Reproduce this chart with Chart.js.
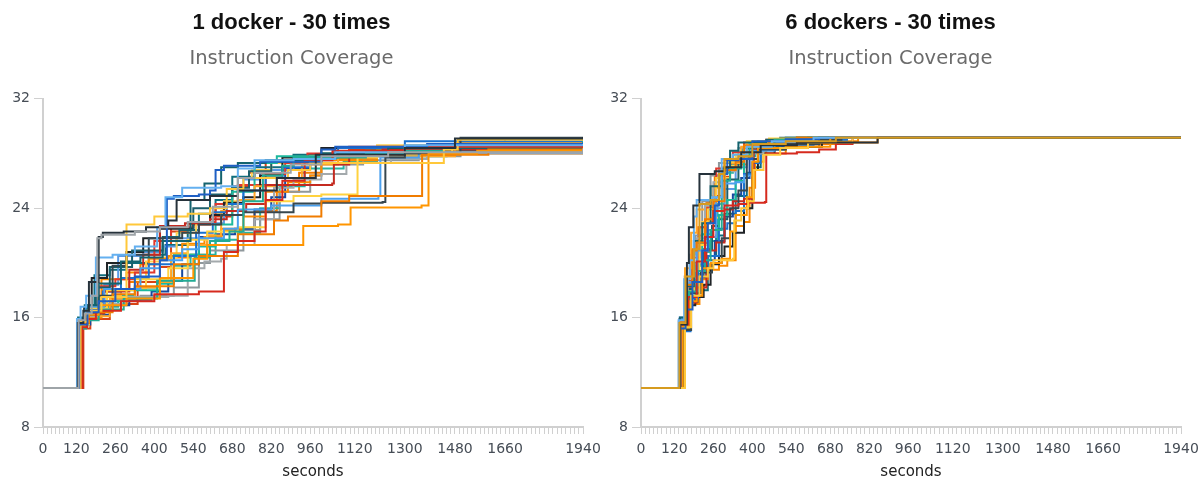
<!DOCTYPE html>
<html>
<head>
<meta charset="utf-8">
<script src="https://cdn.jsdelivr.net/npm/chart.js@4.4.1/dist/chart.umd.min.js"></script>
<style>
  html, body { margin: 0; padding: 0; background: #fff; }
  body { width: 1201px; height: 481px; position: relative; overflow: hidden; }
  .panel { position: absolute; top: 0; height: 481px; }
  #left { left: 0; width: 600px; }
  #right { left: 600px; width: 601px; }
</style>
</head>
<body>
<div class="panel" id="left"><canvas id="oneDocker"></canvas></div>
<div class="panel" id="right"><canvas id="sixDockers"></canvas></div>
<script>
// x tick labels (seconds) and y range
const xLabels = [0, 120, 260, 400, 540, 680, 820, 960, 1120, 1300, 1480, 1660, 1940];
const yTicks = [8, 16, 24, 32];

const lineColors = [
  '#9ea4a8', '#26323b', '#64b0f0', '#1e5fc4', '#ffc83a', '#d62a1e', '#ff9500', '#f07c00', '#22ab94', '#14636e',
  '#37474f', '#4aa0ee', '#ffd23f', '#c42a20', '#a3a9ac', '#1a72d0', '#ffa628', '#1cb89c', '#1b5e6b', '#1f2326',
  '#e0382e', '#fb8a00', '#ffd050', '#5b9be6', '#17499e', '#8f989c', '#27b3a2', '#0f6e7c', '#f57c00', '#d84315'
];

// 1 docker runs: [seconds, coverage]
const oneDocker = [
  [[0,10.85],[128,15.8],[150,16.3],[175,17.6],[195,21.8],[210,22.05],[330,22.3],[420,22.6],[520,23.0],[610,24.1],[700,26.2],[760,26.6],[890,27.2],[1000,27.8],[1240,28.1],[1940,28.35]],
  [[0,10.85],[125,15.6],[145,16.5],[165,18.6],[200,21.9],[215,22.2],[290,22.3],[370,22.6],[450,23.1],[480,24.6],[600,24.9],[700,25.3],[840,26.2],[980,27.9],[1300,28.4],[1480,29.1],[1940,29.2]],
  [[0,10.85],[122,15.9],[135,16.8],[155,17.6],[190,20.4],[250,20.6],[330,21.2],[410,22.6],[440,24.8],[500,25.5],[640,25.6],[700,26.9],[760,27.5],[900,27.6],[1050,28.1],[1300,28.6],[1940,28.7]],
  [[0,10.85],[130,15.5],[160,16.4],[200,17.2],[260,18.1],[330,19.0],[420,20.2],[445,24.7],[470,24.9],[560,25.0],[600,25.3],[620,26.8],[650,27.1],[780,27.4],[1000,28.3],[1050,28.5],[1380,28.7],[1940,28.8]],
  [[0,10.85],[135,15.7],[160,16.5],[210,17.5],[300,22.8],[400,23.4],[520,23.6],[600,24.0],[660,25.4],[720,26.2],[880,26.8],[960,27.3],[1440,28.3],[1490,29.0],[1940,29.0]],
  [[0,10.85],[140,15.3],[158,15.9],[190,16.5],[280,17.2],[400,17.7],[560,17.9],[650,20.8],[700,21.6],[760,22.3],[800,24.6],[860,26.0],[940,27.5],[1040,28.2],[1300,28.5],[1940,28.6]],
  [[0,10.85],[132,15.4],[150,16.2],[200,16.9],[300,17.4],[420,18.9],[540,20.3],[590,21.3],[935,22.7],[1060,22.8],[1105,24.05],[1360,24.2],[1385,28.0],[1560,28.2],[1940,28.3]],
  [[0,10.85],[135,15.6],[165,16.4],[250,17.7],[330,18.3],[470,19.9],[560,20.5],[700,22.1],[830,23.1],[880,23.4],[1000,24.5],[1100,24.9],[1355,24.9],[1362,27.9],[1600,28.3],[1940,28.5]],
  [[0,10.85],[137,15.2],[155,15.8],[200,16.6],[290,17.4],[410,18.7],[545,20.4],[600,21.6],[670,22.3],[720,24.5],[790,26.4],[860,27.1],[900,27.7],[1160,28.0],[1300,28.2],[1440,28.5],[1940,29.0]],
  [[0,10.85],[128,15.9],[160,16.9],[200,18.5],[280,20.1],[350,20.4],[430,21.6],[530,24.6],[580,25.8],[640,27.0],[700,27.3],[800,27.5],[1000,28.0],[1240,28.4],[1940,28.5]],
  [[0,10.85],[126,15.7],[150,16.2],[200,17.6],[250,19.8],[300,20.6],[380,21.8],[500,22.2],[560,22.8],[640,23.5],[720,23.7],[900,24.35],[1000,24.4],[1220,24.45],[1230,27.7],[1300,28.0],[1500,29.15],[1940,29.2]],
  [[0,10.85],[130,15.8],[155,16.8],[220,18.1],[350,19.6],[420,20.2],[500,21.0],[560,21.8],[650,22.5],[700,23.9],[820,24.2],[1000,24.7],[1205,24.9],[1212,27.7],[1350,28.1],[1940,28.25]],
  [[0,10.85],[133,15.5],[165,16.7],[230,18.0],[330,18.8],[450,19.6],[520,21.7],[590,22.3],[700,22.6],[800,24.5],[900,24.9],[1000,25.0],[1125,25.0],[1130,27.7],[1200,28.0],[1470,28.6],[1940,28.7]],
  [[0,10.85],[142,15.6],[165,16.3],[220,17.9],[310,19.5],[360,20.6],[420,22.7],[510,22.9],[600,23.2],[660,23.8],[730,24.3],[800,25.7],[1039,25.8],[1045,27.2],[1100,28.0],[1220,28.3],[1940,28.4]],
  [[0,10.85],[128,15.6],[150,16.1],[200,17.0],[300,17.5],[450,17.6],[520,19.6],[580,20.1],[640,20.3],[660,21.3],[760,23.2],[830,25.5],[900,26.1],[1000,26.5],[1090,27.3],[1250,27.6],[1380,28.0],[1940,28.3]],
  [[0,10.85],[130,15.7],[155,16.6],[215,17.9],[280,18.9],[380,19.9],[470,20.5],[550,22.2],[610,23.7],[660,24.3],[720,25.3],[800,26.2],[860,27.0],[960,27.7],[1060,28.4],[1300,28.9],[1940,29.05]],
  [[0,10.85],[138,15.4],[160,16.1],[240,17.4],[330,18.2],[420,18.6],[460,20.7],[520,21.3],[590,22.0],[640,23.8],[700,24.6],[760,25.6],[840,26.2],[930,27.2],[1060,27.8],[1480,28.8],[1940,28.9]],
  [[0,10.85],[131,15.5],[160,16.3],[220,17.2],[300,18.0],[420,18.5],[470,20.6],[560,21.2],[620,22.8],[680,25.2],[760,27.3],[840,27.8],[1000,28.0],[1160,28.2],[1280,28.3],[1500,28.8],[1940,29.0]],
  [[0,10.85],[129,15.7],[150,16.6],[190,18.2],[240,19.7],[320,20.9],[430,21.9],[490,22.4],[540,24.0],[600,25.0],[680,25.5],[740,26.7],[820,27.4],[1000,27.9],[1180,28.2],[1660,29.1],[1940,29.15]],
  [[0,10.85],[127,15.8],[148,16.7],[175,18.9],[230,20.0],[300,20.8],[360,21.8],[420,22.5],[540,23.0],[600,23.5],[650,24.4],[720,24.8],[780,26.4],[860,27.7],[1000,28.4],[1500,28.6],[1940,28.7]],
  [[0,10.85],[134,15.9],[160,16.7],[200,18.3],[260,18.8],[330,19.3],[400,21.6],[460,22.6],[540,23.0],[620,24.3],[700,25.7],[800,26.5],[870,27.3],[950,28.0],[1100,28.5],[1940,28.9]],
  [[0,10.85],[136,15.3],[152,16.0],[210,18.8],[300,19.3],[380,20.3],[450,20.5],[500,21.4],[580,21.9],[640,22.5],[720,23.4],[800,25.2],[880,25.9],[960,26.4],[1000,27.5],[1200,28.3],[1940,28.45]],
  [[0,10.85],[128,15.9],[150,16.5],[200,17.6],[280,18.1],[370,20.1],[420,20.4],[480,22.2],[550,23.0],[600,23.6],[650,24.5],[700,26.2],[750,26.8],[820,27.3],[960,27.8],[1200,28.6],[1940,28.7]],
  [[0,10.85],[132,15.6],[165,16.4],[220,18.4],[270,20.5],[360,20.8],[430,21.2],[480,21.8],[560,22.9],[650,23.5],[720,26.1],[780,26.8],[900,27.5],[1050,27.9],[1270,28.4],[1940,28.55]],
  [[0,10.85],[130,15.5],[170,16.2],[240,16.9],[310,17.3],[390,17.9],[450,18.7],[500,19.9],[560,21.9],[620,22.1],[690,22.5],[760,23.9],[820,24.8],[870,26.9],[960,27.6],[1060,27.9],[1300,28.6],[1940,28.6]],
  [[0,10.85],[133,15.7],[165,16.5],[250,17.3],[350,17.6],[470,18.2],[560,20.0],[600,20.9],[720,22.4],[780,23.2],[850,25.2],[960,26.4],[1000,27.2],[1150,27.5],[1350,27.8],[1500,28.1],[1940,28.2]],
  [[0,10.85],[135,15.4],[160,16.1],[210,16.8],[270,17.6],[330,18.2],[410,18.5],[470,19.8],[530,20.6],[620,21.7],[700,22.2],[780,24.0],[850,25.6],[940,26.9],[1080,27.4],[1200,27.8],[1450,28.5],[1940,28.6]],
  [[0,10.85],[126,16.0],[150,16.9],[185,19.1],[240,19.5],[300,20.0],[380,20.6],[440,21.3],[520,22.4],[560,23.6],[620,24.6],[680,26.3],[760,27.0],[900,27.9],[1050,28.4],[1940,28.9]],
  [[0,10.85],[140,15.6],[160,16.5],[215,18.0],[310,18.6],[350,19.9],[420,20.2],[470,20.4],[530,20.6],[590,22.0],[650,22.4],[760,23.8],[840,25.2],[920,26.6],[1000,27.6],[1200,28.0],[1940,28.35]],
  [[0,10.85],[145,15.2],[170,15.9],[240,17.0],[340,18.6],[420,19.7],[460,22.3],[520,22.8],[600,23.4],[680,25.6],[740,26.6],[800,27.3],[900,27.8],[1100,28.3],[1700,28.5],[1940,28.55]]
];

// 6 dockers runs: [seconds, coverage]
const sixDockers = [
  [[0,10.85],[138,15.6],[160,19.0],[190,21.0],[210,24.3],[250,24.6],[280,26.5],[300,27.6],[350,27.8],[400,28.7],[520,28.9],[700,29.15],[1940,29.15]],
  [[0,10.85],[140,15.5],[165,20.0],[172,22.6],[188,24.2],[210,26.5],[265,26.7],[300,27.0],[360,28.1],[430,28.6],[560,28.8],[850,29.15],[1940,29.15]],
  [[0,10.85],[135,15.8],[155,18.8],[175,20.2],[190,23.4],[200,24.6],[255,24.8],[290,27.6],[330,27.9],[380,28.5],[470,28.9],[620,29.15],[1940,29.15]],
  [[0,10.85],[137,15.2],[160,16.6],[185,18.6],[220,20.9],[240,22.9],[265,24.2],[280,26.5],[310,27.5],[350,27.6],[400,28.9],[520,29.05],[640,29.15],[1940,29.15]],
  [[0,10.85],[158,15.3],[180,17.6],[210,19.0],[240,19.6],[260,20.2],[330,20.3],[335,23.1],[360,24.0],[385,24.5],[405,26.8],[440,27.9],[500,28.4],[600,28.8],[760,29.15],[1940,29.15]],
  [[0,10.85],[142,15.5],[170,17.5],[200,20.1],[230,21.9],[260,23.8],[300,24.2],[350,24.3],[385,24.4],[445,24.45],[450,28.0],[560,28.1],[640,28.3],[700,28.7],[760,29.15],[1940,29.15]],
  [[0,10.85],[150,15.4],[175,17.2],[200,17.6],[220,19.6],[250,20.0],[290,20.3],[320,22.3],[340,23.5],[380,24.8],[400,27.4],[420,28.4],[520,28.5],[680,29.15],[1940,29.15]],
  [[0,10.85],[136,15.7],[158,18.4],[185,20.9],[200,21.5],[230,23.2],[260,24.5],[300,26.8],[340,27.4],[370,28.6],[460,28.9],[560,29.15],[1940,29.15]],
  [[0,10.85],[148,15.3],[172,17.9],[200,19.4],[230,20.2],[250,22.4],[290,26.0],[320,26.9],[360,27.8],[390,28.7],[480,29.0],[600,29.15],[1940,29.15]],
  [[0,10.85],[140,16.0],[160,18.3],[190,21.6],[220,22.9],[250,25.6],[290,26.9],[320,28.2],[350,28.8],[450,29.0],[560,29.15],[1940,29.15]],
  [[0,10.85],[155,15.1],[180,17.8],[215,19.3],[255,20.0],[290,21.8],[320,24.0],[350,25.3],[380,27.6],[420,28.3],[520,28.7],[640,29.0],[720,29.15],[1940,29.15]],
  [[0,10.85],[145,15.9],[165,18.5],[200,20.9],[240,22.4],[270,24.8],[300,25.8],[340,25.9],[370,26.4],[400,28.2],[480,28.8],[600,29.15],[1940,29.15]],
  [[0,10.85],[141,15.4],[165,17.9],[190,19.4],[210,21.3],[240,23.9],[270,26.2],[300,27.4],[340,27.9],[380,28.9],[460,29.1],[560,29.15],[1940,29.15]],
  [[0,10.85],[146,15.5],[170,17.1],[200,18.2],[235,20.9],[270,21.5],[300,23.9],[330,24.5],[370,24.7],[405,28.3],[460,28.7],[560,28.8],[700,29.15],[1940,29.15]],
  [[0,10.85],[143,15.6],[168,18.9],[200,21.8],[230,24.2],[260,25.9],[300,26.7],[340,27.7],[380,28.0],[440,28.7],[540,29.0],[640,29.15],[1940,29.15]],
  [[0,10.85],[152,15.0],[178,17.4],[205,19.9],[240,20.5],[280,22.5],[310,22.9],[340,23.8],[370,26.5],[400,27.3],[430,28.4],[520,28.6],[620,29.0],[740,29.15],[1940,29.15]],
  [[0,10.85],[139,15.7],[158,19.6],[180,22.2],[200,23.9],[230,24.2],[260,25.5],[290,27.0],[320,27.3],[360,28.5],[450,28.8],[560,29.15],[1940,29.15]],
  [[0,10.85],[144,15.5],[168,17.6],[195,19.8],[220,22.1],[250,22.4],[280,23.5],[310,24.6],[340,26.0],[370,27.8],[410,28.6],[500,29.0],[620,29.15],[1940,29.15]],
  [[0,10.85],[147,15.4],[170,18.1],[195,19.0],[225,21.0],[255,22.7],[280,23.2],[310,26.1],[350,27.6],[380,28.4],[420,28.9],[500,29.15],[1940,29.15]],
  [[0,10.85],[149,15.3],[172,16.9],[195,17.5],[225,18.4],[250,19.9],[280,20.5],[300,21.2],[330,22.2],[370,24.0],[400,26.8],[420,28.0],[480,28.4],[560,28.5],[650,28.9],[700,29.15],[1940,29.15]],
  [[0,10.85],[138,15.6],[162,18.2],[185,20.4],[210,22.6],[240,24.1],[270,26.9],[300,27.5],[330,28.1],[370,28.8],[450,29.0],[560,29.15],[1940,29.15]],
  [[0,10.85],[156,15.2],[178,17.0],[210,18.8],[240,19.5],[280,19.8],[310,20.2],[340,22.7],[370,23.0],[390,25.5],[410,27.4],[440,28.0],[520,28.5],[640,28.9],[780,29.15],[1940,29.15]],
  [[0,10.85],[142,15.8],[164,18.0],[190,19.8],[220,23.0],[250,23.3],[290,26.2],[320,27.1],[360,27.9],[400,28.7],[500,29.0],[620,29.15],[1940,29.15]],
  [[0,10.85],[139,16.0],[160,18.6],[185,19.9],[210,21.6],[240,21.9],[270,24.0],[300,25.4],[340,27.0],[380,28.3],[440,28.9],[560,29.15],[1940,29.15]],
  [[0,10.85],[151,15.2],[175,17.5],[205,18.9],[235,20.2],[265,21.6],[300,23.4],[330,25.0],[360,26.2],[390,27.6],[420,28.5],[520,28.7],[620,28.9],[700,29.15],[1940,29.15]],
  [[0,10.85],[137,15.9],[157,19.0],[175,20.6],[195,22.0],[220,24.5],[250,26.4],[280,27.3],[320,27.5],[350,28.4],[420,28.9],[520,29.15],[1940,29.15]],
  [[0,10.85],[145,15.5],[170,17.9],[195,19.2],[220,20.8],[245,21.6],[275,24.3],[300,26.6],[330,27.9],[365,28.4],[420,28.9],[520,29.15],[1940,29.15]],
  [[0,10.85],[150,15.4],[175,17.0],[205,18.0],[240,20.5],[270,22.0],[300,23.6],[340,24.9],[380,26.6],[400,27.0],[430,28.3],[520,28.6],[600,28.9],[680,29.15],[1940,29.15]],
  [[0,10.85],[141,15.6],[163,18.4],[185,21.0],[205,22.6],[235,24.4],[265,26.4],[300,27.0],[340,27.2],[380,28.1],[450,28.5],[600,28.7],[720,28.8],[850,29.15],[1940,29.15]],
  [[0,10.85],[140,15.5],[165,18.7],[185,20.0],[205,21.4],[235,23.0],[260,24.9],[290,26.3],[320,27.2],[360,27.7],[400,28.8],[480,29.0],[600,29.15],[1940,29.15]]
];
const sixColors = ['#d69b1f'].concat(lineColors.slice(1));

const axisColor = '#d0d0d0';
const labelColor = '#464d56';

// small unlabeled ticks between the labeled ones
function xTickValues() {
  const out = [];
  for (let i = 0; i < xLabels.length - 1; i++) {
    const a = xLabels[i], b = xLabels[i + 1];
    const n = Math.max(1, Math.round((b - a) / 15.6));
    for (let k = 0; k < n; k++) out.push(a + (b - a) * k / n);
  }
  out.push(xLabels[xLabels.length - 1]);
  return out;
}

function makeChart(id, title, runs, colors, yWidth, padRight) {
  const datasets = runs.map((run, i) => ({
    data: run.map(p => ({ x: p[0], y: p[1] })),
    borderColor: colors[i % colors.length],
    borderWidth: 2,
    stepped: true,
    pointRadius: 0,
    fill: false
  }));
  const ticksAt = xTickValues();
  return new Chart(document.getElementById(id), {
    type: 'line',
    data: { datasets },
    options: {
      responsive: true,
      maintainAspectRatio: false,
      animation: false,
      layout: { padding: { left: 0, right: padRight, top: 0, bottom: 0 } },
      plugins: {
        legend: { display: false },
        tooltip: { enabled: false },
        title: {
          display: true, text: title, color: '#111',
          font: { family: 'Liberation Sans', size: 22, weight: 'bold' },
          padding: { top: 10, bottom: 11 }
        },
        subtitle: {
          display: true, text: 'Instruction Coverage', color: '#6b6b6b',
          font: { family: 'DejaVu Sans', size: 19.5, weight: 'normal' },
          padding: { top: 0, bottom: 28 }
        }
      },
      scales: {
        x: {
          type: 'linear', min: 0, max: 1940,
          border: { color: axisColor, width: 2 },
          grid: { drawOnChartArea: false, tickLength: 7, color: axisColor, lineWidth: 1 },
          afterBuildTicks: s => { s.ticks = ticksAt.map(v => ({ value: v })); },
          ticks: {
            autoSkip: false, maxRotation: 0, padding: 7, color: labelColor,
            font: { family: 'DejaVu Sans', size: 14 },
            callback: v => xLabels.includes(v) ? String(v) : ''
          },
          title: {
            display: true, text: 'seconds', color: '#222',
            font: { family: 'DejaVu Sans', size: 15 },
            padding: { top: 0, bottom: 0 }
          },
          afterFit: s => { s.paddingLeft = 0; s.paddingRight = 0; s.height = 54; }
        },
        y: {
          min: 8, max: 32,
          border: { color: axisColor, width: 2 },
          grid: { drawOnChartArea: false, tickLength: 9, color: axisColor, lineWidth: 1 },
          afterBuildTicks: s => { s.ticks = yTicks.map(v => ({ value: v })); },
          ticks: { padding: 4, color: labelColor, font: { family: 'DejaVu Sans', size: 14 } },
          afterFit: s => { s.width = yWidth; }
        }
      }
    }
  });
}

makeChart('oneDocker', '1 docker - 30 times', oneDocker, lineColors, 43, 17);
makeChart('sixDockers', '6 dockers - 30 times', sixDockers, sixColors, 41, 20);
</script>
</body>
</html>
